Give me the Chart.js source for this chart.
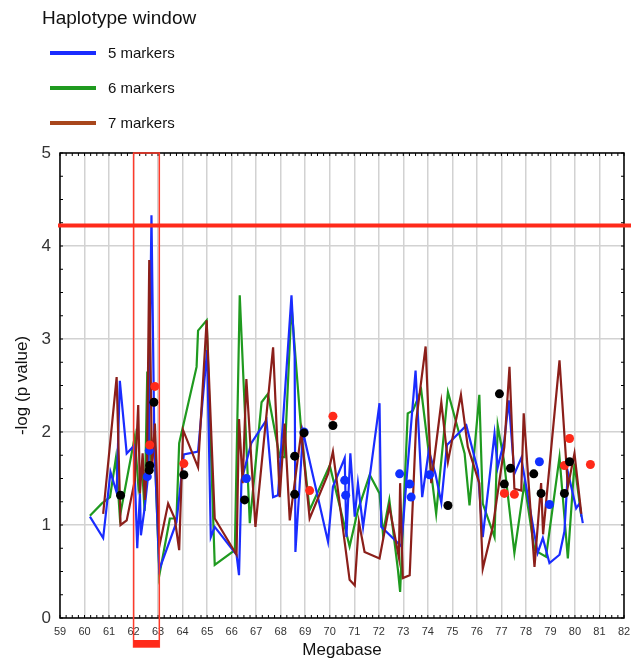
<!DOCTYPE html>
<html>
<head>
<meta charset="utf-8">
<script src="https://cdn.jsdelivr.net/npm/chart.js@4"></script>
<style>
  body { margin: 0; background: #fff; font-family: "Liberation Sans", Arial, sans-serif; }
  #wrap { position: relative; width: 631px; height: 661px; }
  #legend { position: absolute; left: 42px; top: 7px; color: #111; }
  #legend .title { font-size: 19px; margin-bottom: 6px; }
  #legend .item { display: flex; align-items: center; height: 35px; font-size: 15px; }
  #legend .swatch { width: 46px; height: 4px; margin: 0 12px 0 8px; }
</style>
</head>
<body>
<div id="wrap">
  <canvas id="chart" width="631" height="661"></canvas>
  <div id="legend">
    <div class="title">Haplotype window</div>
    <div class="item"><span class="swatch" style="background:#1a2cff"></span>5 markers</div>
    <div class="item"><span class="swatch" style="background:#1f9a1f"></span>6 markers</div>
    <div class="item"><span class="swatch" style="background:#a8461c"></span>7 markers</div>
  </div>
</div>
<script>
// 5 markers (blue line)
var blueX = [60.22, 60.76, 61.06, 61.31, 61.44, 61.72, 62.01, 62.15, 62.26, 62.3, 62.46, 62.6, 62.73, 62.85, 63.05, 63.75, 63.96, 64.05, 64.63, 65.0, 65.15, 65.31, 66.2, 66.3, 66.4, 66.8, 67.42, 67.69, 67.89, 68.44, 68.57, 68.6, 68.91, 69.93, 70.13, 70.61, 70.68, 70.84, 71.02, 71.15, 71.36, 72.03, 72.1, 72.92, 73.12, 73.5, 73.77, 74.04, 74.31, 74.55, 74.78, 75.57, 76.04, 76.24, 76.72, 76.85, 77.12, 77.3, 77.53, 77.81, 78.48, 78.69, 78.96, 79.37, 79.57, 79.71, 80.05, 80.18, 80.32];
var blueY = [1.09, 0.86, 1.57, 1.35, 2.55, 1.77, 1.85, 0.75, 1.34, 0.89, 1.2, 1.55, 4.33, 1.85, 0.52, 1.03, 1.54, 1.76, 1.79, 2.88, 0.87, 0.98, 0.68, 0.46, 1.48, 1.88, 2.13, 1.3, 1.32, 3.47, 2.81, 0.71, 2.0, 0.82, 1.41, 1.72, 0.87, 1.77, 1.09, 1.45, 0.98, 2.31, 0.98, 0.77, 1.45, 2.66, 1.3, 1.8, 1.55, 1.24, 1.86, 2.07, 1.59, 0.87, 1.98, 1.62, 1.91, 2.34, 1.55, 1.72, 0.7, 0.86, 0.59, 0.68, 0.93, 1.57, 1.18, 1.23, 1.02];

// 6 markers (green line)
var greenX = [60.22, 60.7, 61.04, 61.28, 61.44, 62.05, 62.2, 62.35, 62.45, 62.56, 62.7, 62.85, 63.05, 63.48, 63.75, 63.86, 64.57, 64.63, 64.98, 65.31, 66.13, 66.33, 66.74, 67.22, 67.48, 67.96, 68.16, 68.44, 68.84, 69.18, 70.0, 70.81, 71.15, 71.63, 72.03, 72.17, 72.43, 72.78, 72.87, 73.18, 73.39, 73.73, 74.34, 74.82, 75.5, 75.7, 76.1, 76.24, 76.72, 76.85, 77.1, 77.53, 77.94, 78.35, 78.82, 79.37, 79.71, 79.98, 80.26];
var greenY = [1.1, 1.23, 1.3, 1.72, 1.09, 1.95, 1.4, 1.6, 1.15, 2.65, 1.6, 1.9, 0.46, 1.07, 1.07, 1.88, 2.7, 3.09, 3.2, 0.57, 0.73, 3.47, 1.02, 2.32, 2.41, 1.73, 1.73, 3.36, 2.0, 1.16, 1.64, 0.77, 1.16, 1.54, 1.34, 0.91, 1.27, 0.52, 0.28, 2.2, 2.23, 2.45, 1.12, 2.43, 1.77, 1.21, 2.4, 1.23, 0.87, 2.07, 1.7, 0.7, 1.45, 0.73, 0.66, 1.73, 0.64, 1.66, 1.09];

// 7 markers (brown line)
var brownX = [60.76, 61.31, 61.47, 61.72, 62.05, 62.19, 62.26, 62.37, 62.46, 62.55, 62.64, 62.75, 62.87, 63.05, 63.41, 63.68, 63.86, 64.02, 64.63, 64.98, 65.31, 66.2, 66.3, 66.45, 66.6, 66.97, 67.69, 67.96, 68.16, 68.37, 68.84, 69.18, 69.93, 70.13, 70.81, 71.02, 71.19, 71.42, 72.03, 72.43, 72.82, 72.87, 72.98, 73.26, 73.53, 73.91, 74.14, 74.55, 74.82, 75.35, 75.63, 76.1, 76.24, 76.65, 77.12, 77.33, 77.53, 77.81, 77.91, 78.35, 78.62, 78.7, 79.37, 79.71, 79.98, 80.26];
var brownY = [1.12, 2.59, 1.0, 1.05, 1.48, 2.29, 1.34, 1.77, 1.27, 1.7, 3.85, 1.6, 2.09, 0.77, 1.23, 1.07, 0.73, 2.02, 1.62, 3.2, 1.07, 0.68, 2.14, 1.45, 2.57, 0.98, 2.91, 1.3, 2.09, 1.05, 2.0, 1.07, 1.55, 1.79, 0.41, 0.35, 1.03, 0.71, 0.64, 1.2, 0.65, 1.45, 0.43, 0.46, 2.13, 2.92, 1.45, 2.32, 1.68, 2.4, 1.84, 1.45, 0.53, 0.98, 1.84, 2.7, 1.39, 1.37, 2.2, 0.55, 1.45, 0.9, 2.77, 1.41, 1.77, 1.12];

// single marker dots
var blackDotX = [61.47, 62.83, 62.66, 62.64, 64.05, 66.53, 68.57, 68.57, 68.95, 70.13, 74.82, 76.92, 77.37, 77.12, 78.32, 78.62, 79.78, 79.57];
var blackDotY = [1.32, 2.32, 1.64, 1.59, 1.54, 1.27, 1.74, 1.33, 1.99, 2.07, 1.21, 2.41, 1.61, 1.44, 1.55, 1.34, 1.68, 1.34];
var redDotX = [62.87, 62.66, 64.05, 69.18, 70.13, 77.12, 77.53, 79.78, 79.57, 80.63];
var redDotY = [2.49, 1.86, 1.66, 1.37, 2.17, 1.34, 1.33, 1.93, 1.64, 1.65];
var blueDotX = [62.64, 62.56, 66.6, 68.95, 70.61, 70.65, 72.85, 73.26, 73.32, 74.07, 78.55, 78.96];
var blueDotY = [1.80, 1.52, 1.5, 2.0, 1.48, 1.32, 1.55, 1.44, 1.30, 1.54, 1.68, 1.22];

var threshold = 4.22;
var regionStart = 62, regionEnd = 63.05;

function pts(xs, ys) {
  return xs.map(function(x, i) { return { x: x, y: ys[i] }; });
}

function lineSet(label, xs, ys, color, order) {
  return { label: label, data: pts(xs, ys), borderColor: color, borderWidth: 2.2,
           pointRadius: 0, tension: 0, order: order, showLine: true };
}
function dotSet(label, xs, ys, color) {
  return { label: label, data: pts(xs, ys), backgroundColor: color, borderColor: color,
           pointRadius: 4.5, borderWidth: 0, showLine: false, order: 0 };
}

var decor = {
  id: 'decor',
  afterDraw: function(chart) {
    var c = chart.ctx, a = chart.chartArea;
    var xs = chart.scales.x, ys = chart.scales.y;
    c.save();
    // frame with inward ticks
    c.strokeStyle = '#000';
    c.lineWidth = 1.5;
    c.strokeRect(a.left, a.top, a.right - a.left, a.bottom - a.top);
    c.lineWidth = 1;
    c.beginPath();
    for (var v = 59; v <= 82.001; v += 0.25) {
      var px = xs.getPixelForValue(v);
      c.moveTo(px, a.bottom); c.lineTo(px, a.bottom - 3);
      c.moveTo(px, a.top); c.lineTo(px, a.top + 3);
    }
    for (var w = 0; w <= 5.001; w += 0.25) {
      var py = ys.getPixelForValue(w);
      c.moveTo(a.left, py); c.lineTo(a.left + 3, py);
      c.moveTo(a.right, py); c.lineTo(a.right - 3, py);
    }
    c.stroke();
    // highlighted region
    var x1 = xs.getPixelForValue(regionStart), x2 = xs.getPixelForValue(regionEnd);
    c.strokeStyle = '#ff3a2a';
    c.lineWidth = 1.5;
    c.strokeRect(x1, ys.getPixelForValue(5), x2 - x1, a.bottom + 29 - ys.getPixelForValue(5));
    c.fillStyle = '#ff2a1a';
    c.fillRect(x1, a.bottom + 22, x2 - x1, 7);
    // threshold
    var ty = ys.getPixelForValue(threshold);
    c.strokeStyle = '#ff2a1a';
    c.lineWidth = 4;
    c.beginPath();
    c.moveTo(a.left - 2, ty); c.lineTo(chart.width, ty);
    c.stroke();
    c.restore();
  }
};

new Chart(document.getElementById('chart'), {
  type: 'scatter',
  data: {
    datasets: [
      dotSet('black', blackDotX, blackDotY, '#000000'),
      dotSet('red', redDotX, redDotY, '#ff2a1a'),
      dotSet('blue', blueDotX, blueDotY, '#1030ff'),
      lineSet('7 markers', brownX, brownY, '#8b1f1a', 1),
      lineSet('5 markers', blueX, blueY, '#1a2cff', 2),
      lineSet('6 markers', greenX, greenY, '#1f9a1f', 3)
    ]
  },
  options: {
    responsive: false,
    animation: false,
    layout: { padding: { left: 0, right: 0, top: 153, bottom: 0 } },
    plugins: { legend: { display: false }, tooltip: { enabled: false } },
    scales: {
      x: {
        type: 'linear', min: 59, max: 82,
        afterFit: function(s) { s.height = 43; s.paddingRight = 7; s.paddingLeft = 0; },
        ticks: { stepSize: 1, autoSkip: false, maxRotation: 0, padding: 7,
                 color: '#333', font: { family: 'Liberation Sans', size: 11 } },
        grid: { color: '#d2d2d2', lineWidth: 1.5, drawTicks: false },
        border: { display: false },
        title: { display: true, text: 'Megabase', color: '#111', padding: 0,
                 font: { family: 'Liberation Sans', size: 17 } }
      },
      y: {
        min: 0, max: 5,
        afterFit: function(s) { s.width = 60; },
        ticks: { stepSize: 1, padding: 9, color: '#333',
                 font: { family: 'Liberation Sans', size: 17 } },
        grid: { color: '#d2d2d2', lineWidth: 1.5, drawTicks: false },
        border: { display: false },
        title: { display: true, text: '-log (p value)', color: '#111', padding: { top: 12, bottom: 0 },
                 font: { family: 'Liberation Sans', size: 17 } }
      }
    }
  },
  plugins: [decor]
});
</script>
</body>
</html>
